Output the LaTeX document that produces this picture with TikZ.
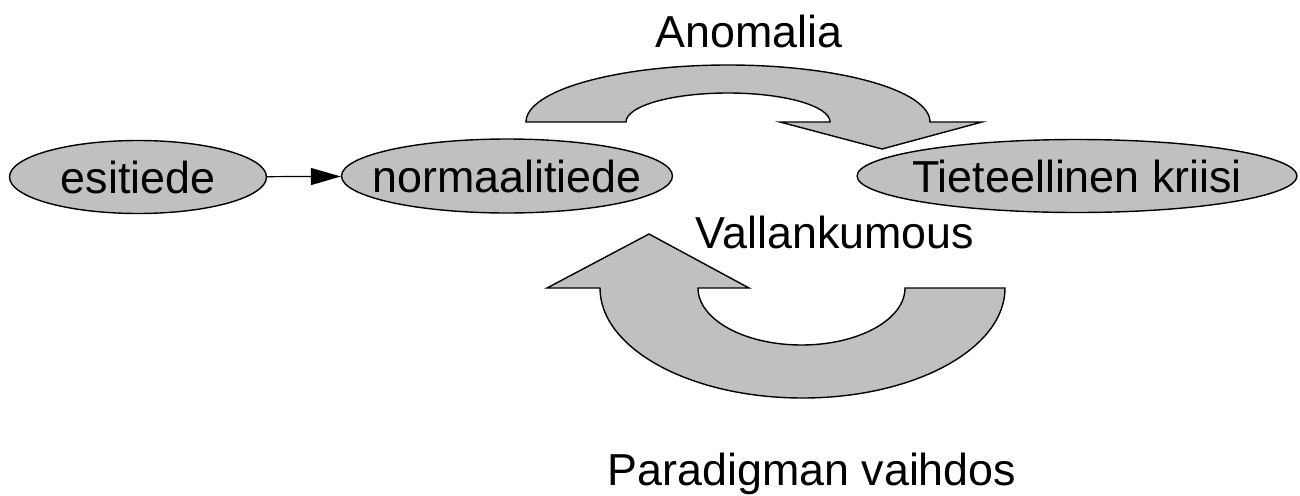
\documentclass[tikz,border=0pt]{standalone}
\usepackage{fontspec}
\setmainfont{Liberation Sans}
\usetikzlibrary{shapes.geometric,arrows.meta}
\definecolor{shapegray}{HTML}{C0C0C0}
\newcommand{\eltext}[1]{\smash{\makebox[0pt]{\raisebox{-0.36em}{#1}}}}
\tikzset{
  ell/.style={ellipse, draw=black, fill=shapegray, line width=0.8pt, inner sep=0pt,
    font=\fontsize{25.5}{30}\selectfont},
  lbl/.style={anchor=base, inner sep=0pt, font=\fontsize{25.5}{30}\selectfont},
  bigarrow/.style={draw=black, fill=shapegray, line width=0.8pt, line join=miter},
  link/.style={draw=black, line width=0.7pt, -{Triangle[length=0.6cm,width=0.34cm]}}
}
\begin{document}
\begin{tikzpicture}[x=0.02cm,y=0.02cm]
\useasboundingbox (0,0) rectangle (1300,495);
% ellipses
\node[ell, minimum width=5.14cm, minimum height=1.46cm] (esi) at (138,318) {\eltext{esitiede}};
\node[ell, minimum width=6.62cm, minimum height=1.48cm] (norm) at (507,319) {\eltext{normaalitiede}};
\node[ell, minimum width=8.8cm, minimum height=1.46cm] (kriisi) at (1077,319) {\eltext{Tieteellinen kriisi}};
\draw[link] (esi) -- (norm);
% upper curved arrow
\path[bigarrow] (526,373) arc[start angle=180, end angle=0, x radius=202, y radius=57]
  -- (982,373) -- (882,346) -- (780,373) -- (830,373)
  arc[start angle=0, end angle=180, x radius=102, y radius=29] -- cycle;
% lower curved arrow
\path[bigarrow] (1005,207) arc[start angle=0, end angle=-180, x radius=202.5, y radius=110]
  -- (547,207) -- (649,261) -- (749,207) -- (698,207)
  arc[start angle=180, end angle=360, x radius=103.5, y radius=57] -- cycle;
% labels
\node[lbl] (anom) at (749,448) {Anomalia};
\node[lbl] (vall) at (835,247) {Vallankumous};
\node[lbl] (para) at (812,10) {Paradigman vaihdos};
\end{tikzpicture}
\end{document}
